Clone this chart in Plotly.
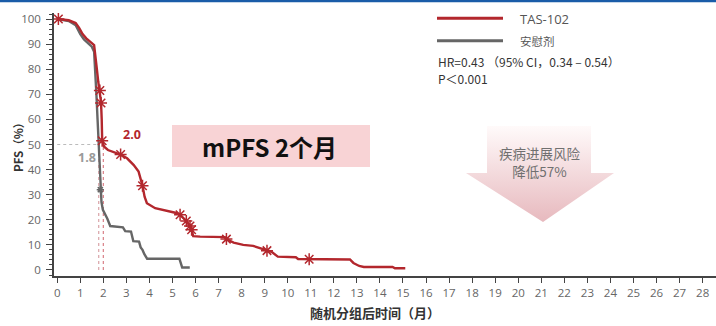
import plotly.graph_objects as go

# ---------------- data ----------------
months = list(range(0, 29))
pfs_ticks = list(range(0, 101, 10))

tas_x = [0, 0.5, 0.8, 0.95, 1.1, 1.26, 1.6, 1.67, 1.72, 1.78, 1.83, 1.9, 1.93, 1.95, 2.0, 2.05, 2.2,
         2.75, 3.03, 3.32, 3.53, 3.7, 3.79, 3.89, 4.25, 4.68, 5.12, 5.33, 5.5, 5.6, 5.76, 5.83, 5.9,
         6.2, 7.27, 7.34, 7.65, 8.07, 8.5, 8.87, 9.1, 9.3, 9.57, 10.35, 10.45, 10.93, 12.7, 12.85,
         13.1, 13.3, 14.55, 14.65, 15.1]
tas_y = [100, 99.5, 98.4, 96.5, 94, 92.3, 89.6, 85, 80, 75, 71.5, 67, 60, 52, 50, 49, 47.8,
         46, 44.5, 41.8, 39.2, 33.6, 29.2, 26.6, 24.6, 23.6, 22.8, 22, 20.5, 19.5, 17.5, 16, 13.5,
         13.3, 13.1, 12.3, 10.9, 10.0, 9.6, 8.6, 7.7, 7.2, 5.3, 5.1, 4.4, 4.3, 4.2, 2.8,
         1.6, 1.2, 1.2, 0.7, 0.7]
tas_cens_x = [0.05, 1.85, 1.9, 1.95, 2.75, 3.7, 5.33, 5.6, 5.76, 5.83, 7.34, 9.1, 10.93]
tas_cens_y = [100, 71.5, 66.5, 51.5, 46, 33.6, 22, 19.5, 17.5, 16, 12.3, 7.7, 4.3]

pbo_x = [0, 0.5, 0.8, 1.0, 1.16, 1.5, 1.6, 1.65, 1.7, 1.75, 1.8, 1.82, 1.84, 1.87, 1.92, 1.98,
         2.1, 2.17, 2.3, 2.85, 2.95, 3.2, 3.3, 3.55, 3.62, 3.7, 3.78, 3.9, 5.3, 5.42, 5.75]
pbo_y = [100, 99.2, 97.5, 94, 91.9, 89, 87, 80, 70, 60, 50, 45, 38, 32, 27, 24,
         22, 20.5, 17.5, 17, 15.5, 15.3, 11.5, 11.3, 9, 8, 6.3, 4.5, 4.5, 1.0, 1.0]
pbo_cens_x = [1.87]
pbo_cens_y = [32]

median_vals = [2.0, 1.8]          # TAS-102, placebo
median_labels = ["2.0", "1.8"]

series_names = ["TAS-102", "安慰剂"]
hr_text = "HR=0.43 （95% CI，0.34 – 0.54）"
p_text = "P＜0.001"

RED = "#b3272d"
GRAY = "#666666"
CJK = "Noto Sans CJK SC"
LAT = "Open Sans"

# pixel -> paper helpers (plot area: x 54..716, y 13..276)
L, R, T, B = 54, 716, 13, 276
def px(x):
    return (x - L) / (R - L)
def py(y):
    return (B - y) / (B - T)

fig = go.Figure()

# median guide lines
fig.add_trace(go.Scatter(x=[0, median_vals[1]], y=[50, 50], mode="lines",
                         line=dict(color="#bbbbbb", width=1.2, dash="dot"), hoverinfo="skip", showlegend=False))
fig.add_trace(go.Scatter(x=[median_vals[1], median_vals[1]], y=[0, 50], mode="lines",
                         line=dict(color="#d9a3a8", width=1.2, dash="dot"), hoverinfo="skip", showlegend=False))
fig.add_trace(go.Scatter(x=[median_vals[0], median_vals[0]], y=[0, 50], mode="lines",
                         line=dict(color="#d98088", width=1.2, dash="dot"), hoverinfo="skip", showlegend=False))

# curves
fig.add_trace(go.Scatter(x=pbo_x, y=pbo_y, mode="lines", name=series_names[1],
                         line=dict(color=GRAY, width=2.4), showlegend=False))
fig.add_trace(go.Scatter(x=pbo_cens_x, y=pbo_cens_y, mode="markers",
                         marker=dict(symbol="asterisk-open", size=6, color=GRAY,
                                     line=dict(color=GRAY, width=1.5)),
                         showlegend=False))
fig.add_trace(go.Scatter(x=tas_x, y=tas_y, mode="lines", name=series_names[0],
                         line=dict(color=RED, width=2.4), showlegend=False))
fig.add_trace(go.Scatter(x=tas_cens_x, y=tas_cens_y, mode="markers",
                         marker=dict(symbol="asterisk-open", size=10, color=RED,
                                     line=dict(color=RED, width=1.5)),
                         showlegend=False))

# gradient arrow on an overlay pixel axis
fig.add_trace(go.Scatter(x=[487, 591, 591, 614, 543, 466, 487, 487],
                         y=[126, 126, 173, 173, 222, 173, 173, 126],
                         xaxis="x2", yaxis="y2", mode="lines", fill="toself",
                         line=dict(width=0, color="rgba(0,0,0,0)"),
                         fillgradient=dict(type="vertical", colorscale=[[0, "#fffafa"], [1, "#e7b9be"]],
                                           start=126, stop=222),
                         hoverinfo="skip", showlegend=False))

shapes = []
# top blue line
shapes.append(dict(type="rect", xref="paper", yref="paper", x0=px(0), x1=px(716),
                   y0=py(2.2), y1=py(-1), fillcolor="#1a5ca8", line=dict(width=0)))
# mPFS box
shapes.append(dict(type="rect", xref="paper", yref="paper", x0=px(172), x1=px(370),
                   y0=py(167), y1=py(125), fillcolor="#f8d3d5", line=dict(width=0), layer="below"))
# legend samples
shapes.append(dict(type="line", xref="paper", yref="paper", x0=px(437), x1=px(503),
                   y0=py(18.3), y1=py(18.3), line=dict(color=RED, width=3)))
shapes.append(dict(type="line", xref="paper", yref="paper", x0=px(437), x1=px(503),
                   y0=py(40.7), y1=py(40.7), line=dict(color=GRAY, width=3)))

ann = []
ann.append(dict(xref="paper", yref="paper", x=px(518), y=py(18.5), text=series_names[0], showarrow=False,
                xanchor="left", yanchor="middle", font=dict(family=LAT, size=13, color="#555")))
ann.append(dict(xref="paper", yref="paper", x=px(518), y=py(41), text=series_names[1], showarrow=False,
                xanchor="left", yanchor="middle", font=dict(family=CJK, size=11.5, color="#555")))
ann.append(dict(xref="paper", yref="paper", x=px(436), y=py(61.5), text=hr_text, showarrow=False,
                xanchor="left", yanchor="middle", font=dict(family=CJK, size=12, color="#333")))
ann.append(dict(xref="paper", yref="paper", x=px(436), y=py(78.5), text=p_text, showarrow=False,
                xanchor="left", yanchor="middle", font=dict(family=CJK, size=12, color="#333")))
ann.append(dict(xref="paper", yref="paper", x=px(269), y=py(146), text="<b>mPFS 2个月</b>", showarrow=False,
                xanchor="center", yanchor="middle", font=dict(family=CJK, size=24, color="#111")))
ann.append(dict(xref="paper", yref="paper", x=px(540), y=py(162), text="疾病进展风险<br>降低57%",
                showarrow=False, xanchor="center", yanchor="middle", align="center",
                font=dict(family=CJK, size=13.5, color="#707070")))
ann.append(dict(xref="paper", yref="paper", x=px(132), y=py(134), text="<b>" + median_labels[0] + "</b>",
                showarrow=False, xanchor="center", yanchor="middle", font=dict(family=LAT, size=12.5, color=RED)))
ann.append(dict(xref="paper", yref="paper", x=px(87), y=py(157), text="<b>" + median_labels[1] + "</b>",
                showarrow=False, xanchor="center", yanchor="middle", font=dict(family=LAT, size=12.5, color="#9a9a9a")))
ann.append(dict(xref="paper", yref="paper", x=px(375), y=py(312), text="<b>随机分组后时间（月）</b>",
                showarrow=False, xanchor="center", yanchor="middle", font=dict(family=CJK, size=13, color="#333")))
ann.append(dict(xref="paper", yref="paper", x=px(18), y=py(145), text="<b>PFS（%）</b>", textangle=-90,
                showarrow=False, xanchor="center", yanchor="middle", font=dict(family=CJK, size=11.5, color="#333")))

fig.update_layout(
    width=716, height=326,
    margin=dict(l=L, r=0, t=T, b=326 - B),
    paper_bgcolor="white", plot_bgcolor="white",
    showlegend=False,
    shapes=shapes, annotations=ann,
    xaxis=dict(range=[-0.14, 28.58], tickmode="array", tickvals=months, ticktext=[str(m) for m in months],
               ticks="outside", ticklen=5, tickwidth=1.3, tickcolor="#444",
               showline=True, linecolor="#444", linewidth=1.5, showgrid=False, zeroline=False,
               tickfont=dict(family=LAT, size=11.5, color="#666")),
    yaxis=dict(range=[-2.4, 102.4], tickmode="linear", tick0=0, dtick=10,
               ticks="outside", ticklen=6, tickwidth=1.3, tickcolor="#444", ticklabelstandoff=3,
               minor=dict(dtick=2, tick0=0, ticks="outside", ticklen=3, tickcolor="#444", tickwidth=1),
               showline=True, linecolor="#444", linewidth=1.5, showgrid=False, zeroline=False,
               tickfont=dict(family=LAT, size=11.5, color="#666")),
    xaxis2=dict(overlaying="x", range=[L, R], visible=False, fixedrange=True),
    yaxis2=dict(overlaying="y", range=[B, T], visible=False, fixedrange=True),
)

fig.write_html("out.html", config={"displayModeBar": False},
               post_script="document.body.style.margin='0';document.body.style.overflow='hidden';")
